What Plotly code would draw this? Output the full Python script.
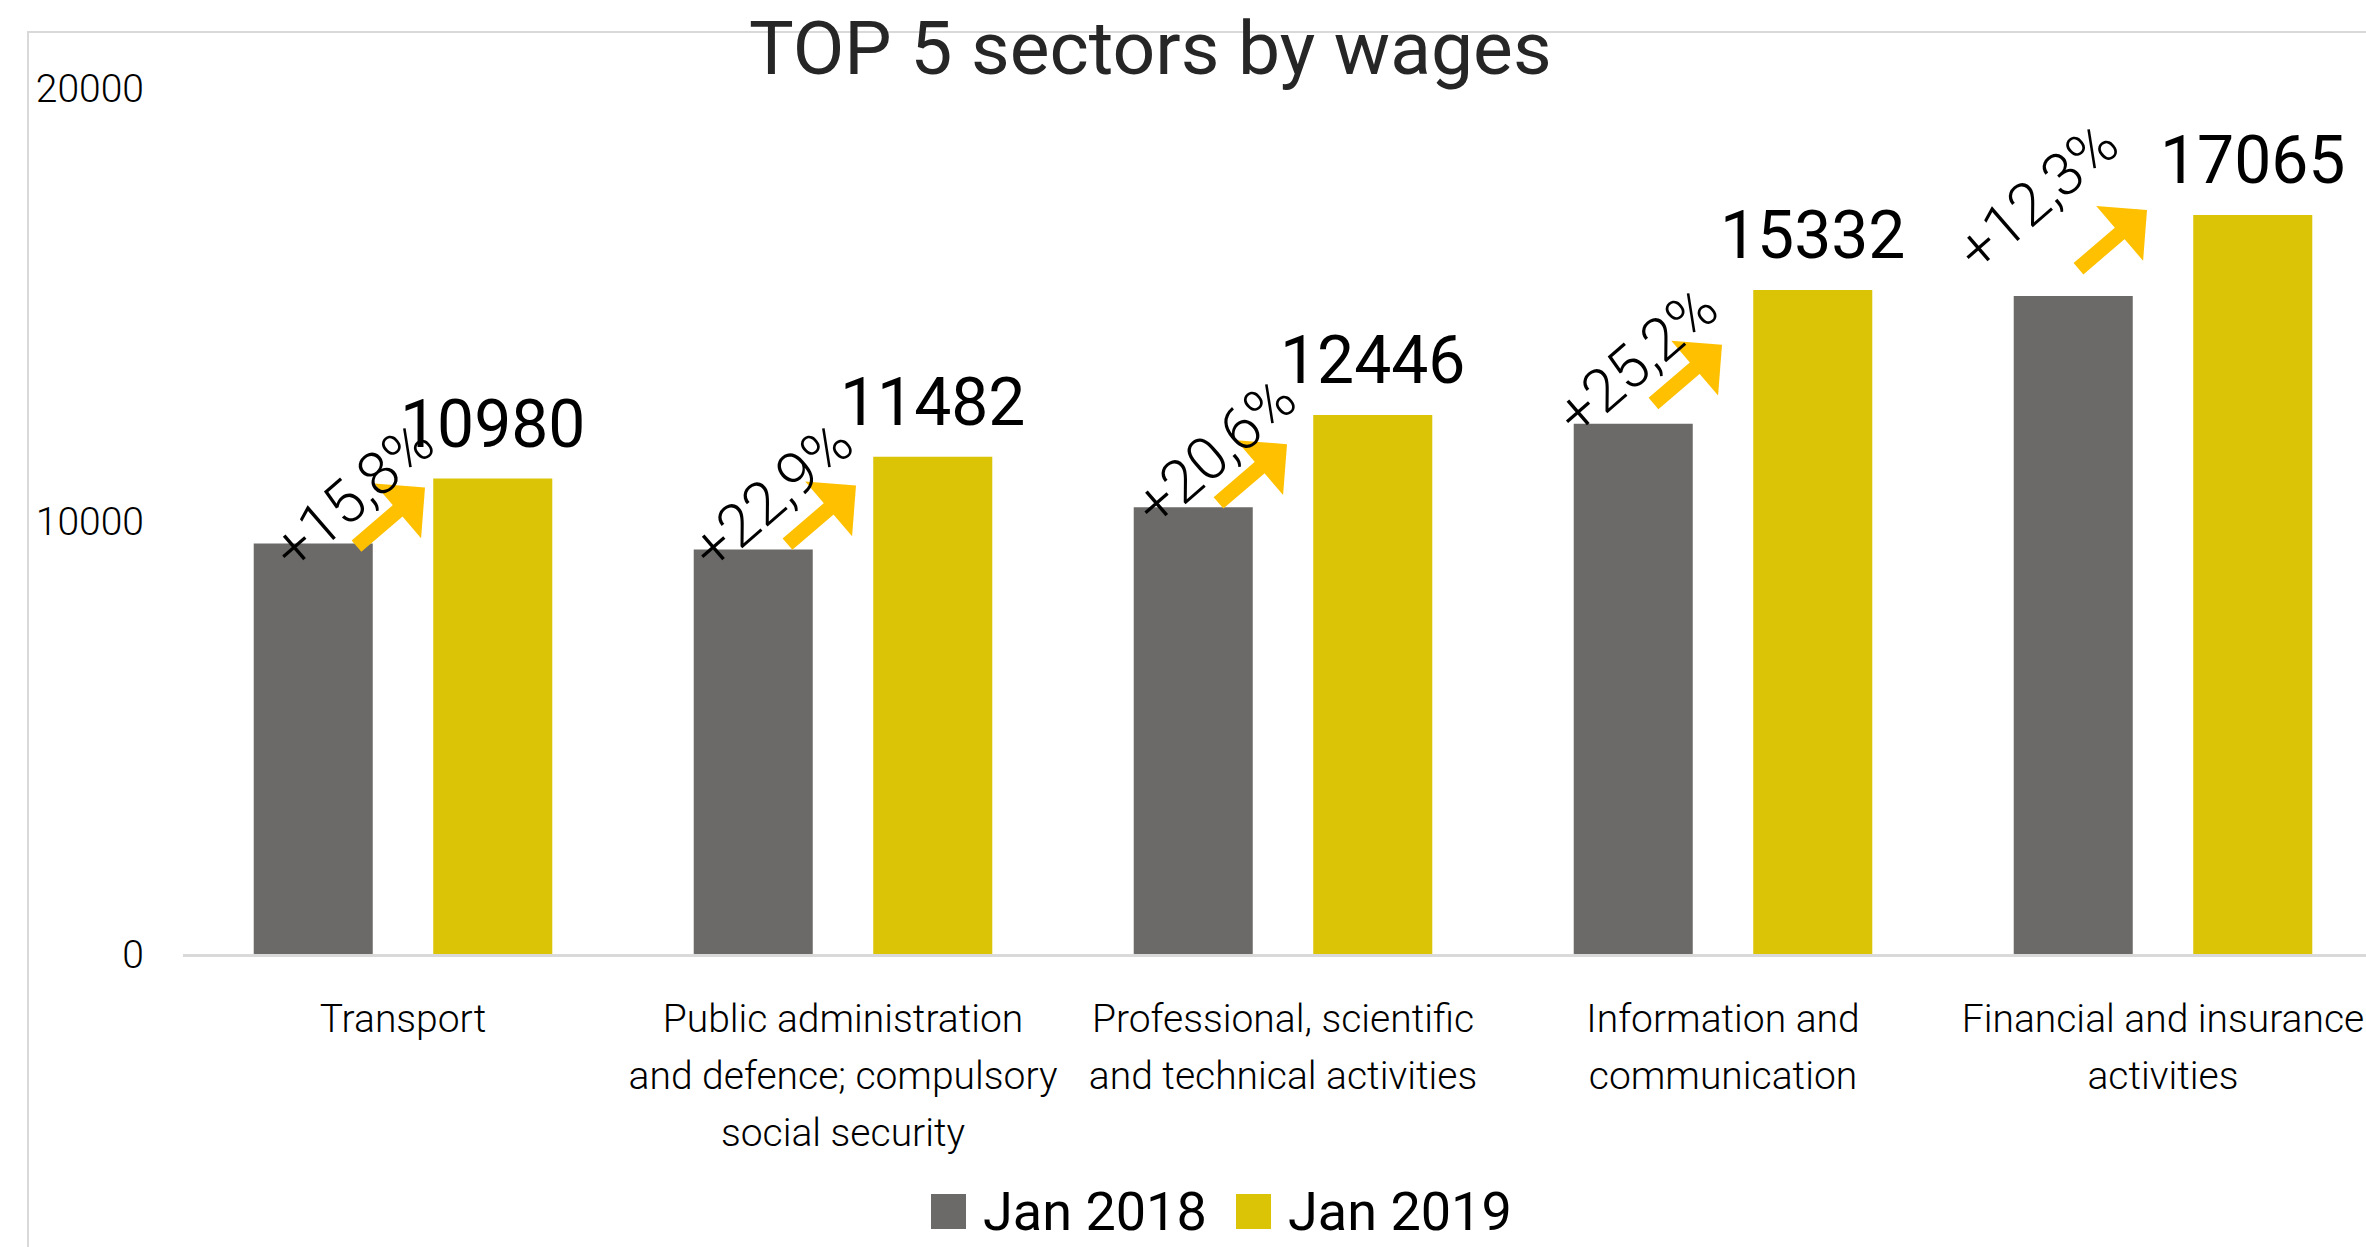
import plotly.graph_objects as go

# Sector wages, January 2018 vs January 2019
sectors = [
    "Transport",
    "Public administration<br>and defence; compulsory<br>social security",
    "Professional, scientific<br>and technical activities",
    "Information and<br>communication",
    "Financial and insurance<br>activities",
]
wages_jan_2018 = [9482, 9343, 10320, 12246, 15196]
wages_jan_2019 = [10980, 11482, 12446, 15332, 17065]
growth_pct = [15.8, 22.9, 20.6, 25.2, 12.3]
series_names = ["Jan 2018", "Jan 2019"]
y_ticks = [0, 10000, 20000]

GREY = "#6B6A68"
YELLOW = "#DBC305"
ARROW = "#FFC000"
FRAME = "#D9D9D9"
FONT = "Roboto, Lato, Liberation Sans, sans-serif"

W, H = 2366, 1247
M_L, M_R, M_T, M_B = 183, 0, 88, 293
PW, PH = W - M_L - M_R, H - M_T - M_B
CAT_PX = 440.0  # pixel width of one category slot

# hand placement of the growth arrows (pixels): arrow tip relative to the
# category centre / top of the Jan 2018 bar, and the label relative to the tip
ARROW_TIP_PX = [(22, 56), (13, 64), (4, 63), (-1, 79), (-16, 86)]
LABEL_FROM_TIP_PX = [(-72, -8), (-84, -10), (-72, -7), (-85, -16), (-110, 14)]


def px_x(px):
    return (px - M_L) / PW


def px_y(py):
    return (H - M_B - py) / PH


fig = go.Figure()
fig.add_trace(go.Bar(name=series_names[0], x=sectors, y=wages_jan_2018,
                     marker=dict(color=GREY, line=dict(width=0)), showlegend=False))
fig.add_trace(go.Bar(name=series_names[1], x=sectors, y=wages_jan_2019,
                     marker=dict(color=YELLOW, line=dict(width=0)), showlegend=False))

annotations = []
bar_offset = 89.75 / CAT_PX
for i, (v18, v19, g) in enumerate(zip(wages_jan_2018, wages_jan_2019, growth_pct)):
    tip_dx, tip_up = ARROW_TIP_PX[i]
    lab_dx, lab_up = LABEL_FROM_TIP_PX[i]
    # value above the Jan 2019 bar
    annotations.append(dict(
        x=i + bar_offset, y=v19, xref="x", yref="y", text=str(v19),
        showarrow=False, xanchor="center", yanchor="bottom", yshift=14,
        font=dict(family=FONT, size=66, color="#000000")))
    # growth arrow from the 2018 bar towards the 2019 bar
    annotations.append(dict(
        x=i, y=v18, xref="x", yref="y", text="",
        showarrow=True, arrowhead=1, arrowsize=0.8, arrowwidth=15,
        arrowcolor=ARROW, ax=-70, ay=60, xshift=tip_dx, yshift=tip_up, standoff=0))
    # growth percentage along the arrow
    annotations.append(dict(
        x=i, y=v18, xref="x", yref="y",
        text=("+%.1f%%" % g).replace(".", ","),
        showarrow=False, textangle=-41, xanchor="center", yanchor="middle",
        xshift=tip_dx + lab_dx, yshift=tip_up + lab_up,
        font=dict(family=FONT, size=60, color="#000000", weight=300)))

# title
annotations.append(dict(
    x=px_x(1150), y=px_y(48), xref="paper", yref="paper", text="TOP 5 sectors by wages",
    showarrow=False, xanchor="center", yanchor="middle",
    font=dict(family=FONT, size=75, color="#262626")))

# legend built from squares and labels
legend_items = [(931, GREY, series_names[0]), (1236, YELLOW, series_names[1])]
shapes = []
for x_left, color, label in legend_items:
    shapes.append(dict(type="rect", xref="paper", yref="paper",
                       x0=px_x(x_left), x1=px_x(x_left + 35),
                       y0=px_y(1229), y1=px_y(1194),
                       fillcolor=color, line=dict(width=0)))
    annotations.append(dict(
        x=px_x(x_left + 50), y=px_y(1211), xref="paper", yref="paper", text=label,
        showarrow=False, xanchor="left", yanchor="middle",
        font=dict(family=FONT, size=54, color="#000000")))

# outer chart frame
shapes.append(dict(type="rect", xref="paper", yref="paper",
                   x0=px_x(28), x1=px_x(W + 40), y0=px_y(H + 40), y1=px_y(32),
                   line=dict(color=FRAME, width=2), fillcolor="rgba(0,0,0,0)", layer="below"))

# category labels: glyphs at 39px, line pitch taken from the 44px tick font
tick_labels = ['<span style="font-size:39px">%s</span>' % s.replace(
    "<br>", '</span><br><span style="font-size:39px">') for s in sectors]

fig.update_layout(
    width=W, height=H,
    margin=dict(l=M_L, r=M_R, t=M_T, b=M_B, pad=0),
    paper_bgcolor="white", plot_bgcolor="white",
    barmode="group", bargap=0.184, bargroupgap=0.337,
    showlegend=False,
    annotations=annotations, shapes=shapes,
    xaxis=dict(
        type="category", categoryorder="array", categoryarray=sectors,
        tickvals=sectors, ticktext=tick_labels,
        range=[-0.5, -0.5 + PW / CAT_PX], automargin=False,
        showgrid=False, zeroline=False, showline=True, linecolor=FRAME, linewidth=3,
        ticks="", tickfont=dict(family=FONT, size=44, color="#000000", weight=300),
        tickangle=0, ticklabelstandoff=22,
    ),
    yaxis=dict(
        range=[0, 20000], tickvals=y_ticks, ticktext=[str(t) for t in y_ticks],
        automargin=False,
        showgrid=False, zeroline=False, showline=False, ticks="",
        tickfont=dict(family=FONT, size=39, color="#000000", weight=300),
        ticklabelstandoff=38,
    ),
)

fig.write_html("out.html")
